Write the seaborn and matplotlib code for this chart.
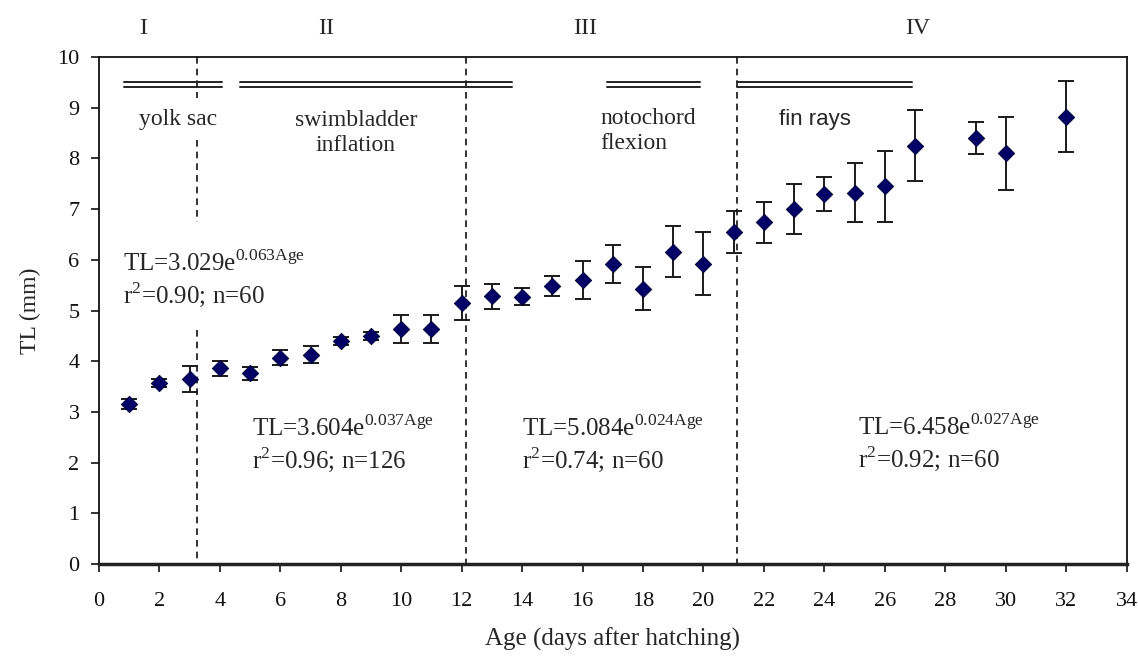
import matplotlib
matplotlib.use("Agg")
import matplotlib.pyplot as plt
import seaborn as sns
import pandas as pd

# mean total length (mm) and error by age (days after hatching)
age = [1, 2, 3, 4, 5, 6, 7, 8, 9, 10, 11, 12, 13, 14, 15, 16, 17, 18, 19, 20,
       21, 22, 23, 24, 25, 26, 27, 29, 30, 32]
tl = [3.15, 3.57, 3.65, 3.86, 3.76, 4.07, 4.13, 4.40, 4.50, 4.64, 4.64, 5.15,
      5.28, 5.27, 5.48, 5.60, 5.92, 5.43, 6.16, 5.92, 6.55, 6.74, 7.00, 7.30,
      7.32, 7.45, 8.25, 8.40, 8.10, 8.82]
err = [0.10, 0.08, 0.25, 0.15, 0.12, 0.15, 0.17, 0.08, 0.08, 0.27, 0.27, 0.33,
       0.25, 0.17, 0.20, 0.38, 0.38, 0.42, 0.50, 0.62, 0.42, 0.40, 0.50, 0.33,
       0.58, 0.70, 0.70, 0.32, 0.72, 0.70]

stage_breaks = [3.24, 12.14, 21.1]
stage_labels = ["I", "II", "III", "IV"]
stage_label_x = [1.45, 7.5, 16.07, 27.08]

event_labels = ["yolk sac", "swimbladder\ninflation", "notochord\nflexion", "fin rays"]
event_spans = [(0.83, 4.07), (4.66, 13.66), (16.8, 19.87), (21.1, 26.9)]

equations = ["TL=3.029e$^{\\mathrm{0.063Age}}$", "TL=3.604e$^{\\mathrm{0.037Age}}$",
             "TL=5.084e$^{\\mathrm{0.024Age}}$", "TL=6.458e$^{\\mathrm{0.027Age}}$"]
fit_stats = ["r$^{\\mathrm{2}}$=0.90; n=60", "r$^{\\mathrm{2}}$=0.96; n=126",
             "r$^{\\mathrm{2}}$=0.74; n=60", "r$^{\\mathrm{2}}$=0.92; n=60"]
equation_pos = [(0.8, 5.93), (5.06, 2.68), (14.0, 2.68), (25.1, 2.7)]

df = pd.DataFrame({"Age": age, "TL": tl, "err": err})

sns.set_theme(style="ticks")
plt.rcParams["font.family"] = ["Liberation Serif", "DejaVu Serif"]
plt.rcParams["mathtext.fontset"] = "custom"
plt.rcParams["mathtext.rm"] = "Liberation Serif"

fig = plt.figure(figsize=(11.38, 6.59), dpi=100)
ax = fig.add_axes([0.087, 0.144, 0.903, 0.7695])

ax.errorbar(df.Age, df.TL, yerr=df.err, fmt="none", ecolor="#1a1a1a",
            elinewidth=1.4, capsize=5.5, capthick=1.4, zorder=2)
sns.scatterplot(data=df, x="Age", y="TL", marker="D", s=70, color="#000066",
                edgecolor="#000033", linewidth=0.6, ax=ax, zorder=3)

ax.set_xlim(0, 34)
ax.set_ylim(0, 10)
ax.set_xticks(range(0, 35, 2))
ax.set_yticks(range(0, 11))
ax.tick_params(axis="both", direction="out", length=6, width=1.2,
               labelsize=16, colors="#111111", pad=8)
ax.tick_params(axis="x", pad=14)
for side in ["left", "top", "right"]:
    ax.spines[side].set_linewidth(1.3)
    ax.spines[side].set_color("#111111")
ax.spines["bottom"].set_linewidth(2.5)
ax.spines["bottom"].set_color("#222222")

ax.set_xlabel("Age (days after hatching)", fontsize=18, labelpad=12)
ax.set_ylabel("TL (mm)", fontsize=17, labelpad=12)

# stage boundaries
dash = dict(color="#111111", linestyle=(0, (4, 3)), linewidth=1.2, zorder=1)
ax.plot([stage_breaks[0]] * 2, [10, 9.2], **dash)
ax.plot([stage_breaks[0]] * 2, [8.36, 6.75], **dash)
ax.plot([stage_breaks[0]] * 2, [4.62, 0], **dash)
ax.plot([stage_breaks[1]] * 2, [10, 0], **dash)
ax.plot([stage_breaks[2]] * 2, [10, 0], **dash)

for lab, x in zip(stage_labels, stage_label_x):
    ax.text(x, 10.57, lab, ha="center", va="center", fontsize=17, clip_on=False)

# double lines marking developmental events
for (x0, x1) in event_spans:
    ax.plot([x0, x1], [9.51, 9.51], color="#222222", linewidth=1.4)
    ax.plot([x0, x1], [9.41, 9.41], color="#222222", linewidth=1.4)

ax.text(2.6, 8.76, event_labels[0], ha="center", va="center", fontsize=17)
ax.text(8.5, 8.5, event_labels[1], ha="center", va="center", fontsize=17,
        linespacing=1.2)
ax.text(16.6, 8.54, event_labels[2], ha="left", va="center", fontsize=17,
        linespacing=1.2)
ax.text(22.5, 8.76, event_labels[3], ha="left", va="center", fontsize=16,
        family=["Liberation Sans", "DejaVu Sans"])

for eq, st, (x, y) in zip(equations, fit_stats, equation_pos):
    ax.text(x, y, eq, ha="left", va="center", fontsize=18)
    ax.text(x, y - 0.62, st, ha="left", va="center", fontsize=18)

fig.savefig("out.png", dpi=100)
